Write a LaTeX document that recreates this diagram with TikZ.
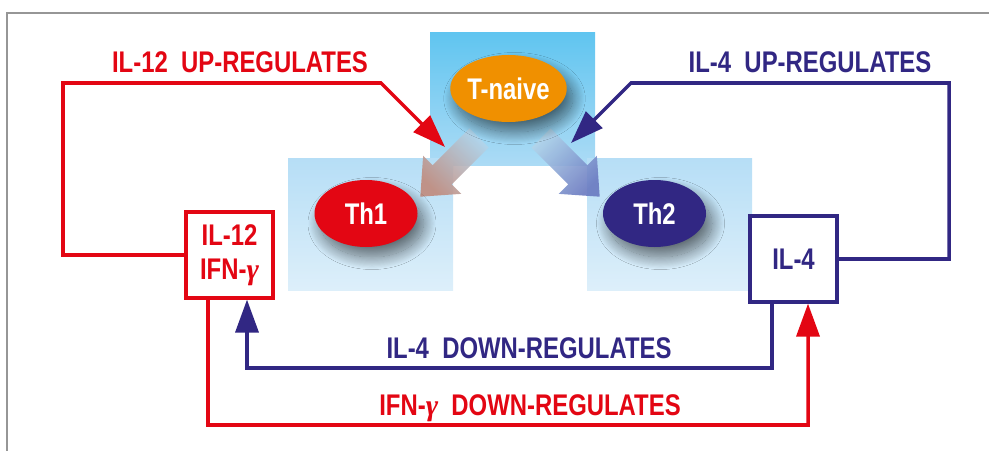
\documentclass[tikz,border=0pt]{standalone}
\usepackage{fontspec}
\setmainfont{Liberation Sans}[FakeStretch=0.8]
\newfontfamily\gammafont{Liberation Serif}
\usetikzlibrary{shapes.geometric, arrows.meta, shadows.blur}
\definecolor{ilred}{RGB}{227, 6, 19}
\definecolor{ilblue}{RGB}{49, 39, 131}
\definecolor{naive}{RGB}{240, 144, 0}
\definecolor{skydeep}{RGB}{96, 197, 240}
\definecolor{skymid}{RGB}{172, 219, 245}
\definecolor{skylight}{RGB}{182, 222, 246}
\definecolor{skypale}{RGB}{221, 239, 250}
\definecolor{framegray}{RGB}{150, 150, 150}
\definecolor{tailblue}{RGB}{178, 212, 234}
\definecolor{thonetip}{RGB}{192, 138, 124}
\definecolor{thtwotip}{RGB}{105, 121, 192}
\newcommand{\gam}{{\gammafont\bfseries\itshape γ}}
\tikzset{
    txt/.style={font=\fontsize{17}{19.5}\selectfont\bfseries},
    cell/.style={ellipse, txt, text=white, inner sep=0pt, minimum width=2.06cm, minimum height=1.34cm,
        blur shadow={shadow xshift=0.12cm, shadow yshift=-0.2cm, shadow blur radius=0.25cm,
            shadow blur steps=24, shadow opacity=55}},
    cytobox/.style={rectangle, txt, fill=white, line width=1.8pt, align=center, inner sep=0pt,
        minimum width=1.74cm, minimum height=1.72cm},
    loopline/.style={line width=2pt, -{Triangle[length=0.66cm, width=0.46cm]}},
    lbl/.style={txt, anchor=base, inner sep=0pt}
}
\begin{document}
\begin{tikzpicture}
    \useasboundingbox (0,0) rectangle (19.78,9);
    \draw[framegray, line width=1pt] (0.14,-1) -- (0.14,8.74) -- (21,8.74);

    % backgrounds of the three cells
    \shade[top color=skydeep, bottom color=skymid] (8.6,5.7) rectangle (11.9,8.34);
    \shade[top color=skylight, bottom color=skypale] (5.76,3.2) rectangle (9.06,5.84);
    \shade[top color=skylight, bottom color=skypale] (11.74,3.2) rectangle (15.04,5.84);

    % differentiation arrows
    \foreach \sx/\rot/\ang/\tipcol in {9.58/-135/-45/thonetip, 10.82/-45/45/thtwotip}
        \shade[top color=tailblue, bottom color=\tipcol, shading angle=\ang, opacity=0.9,
               shift={(\sx,6.24)}, rotate=\rot]
            (0,0.27) -- (1.04,0.27) -- (1.04,0.54) -- (1.66,0) -- (1.04,-0.54) -- (1.04,-0.27) -- (0,-0.27) -- cycle;

    \node[cell, fill=naive] (tnaive) at (10.17,7.23) {T-naive};
    \node[cell, fill=ilred] (thone) at (7.32,4.73) {Th1};
    \node[cell, fill=ilblue] (thtwo) at (13.09,4.73) {Th2};

    \node[cytobox, draw=ilred, text=ilred] (cytoone) at (4.59,3.9) {IL-12\\IFN-\gam};
    \node[cytobox, draw=ilblue, text=ilblue] (cytotwo) at (15.87,3.82) {IL-4};

    \coordinate (thonein) at (8.9,6.06);
    \coordinate (thtwoin) at (11.42,6.14);

    \draw[loopline, ilred] (cytoone.west) -| (1.26,7.34) -- (7.62,7.34) -- (thonein);
    \draw[loopline, ilblue] (cytotwo.east) -| (18.98,7.34) -- (12.62,7.34) -- (thtwoin);
    \draw[loopline, ilblue] ([xshift=-0.43cm]cytotwo.south) |- (4.94,1.64) -- ([xshift=0.35cm]cytoone.south);
    \draw[loopline, ilred] ([xshift=-0.43cm]cytoone.south) |- (16.16,0.5) -- ([xshift=0.29cm]cytotwo.south);

    \node[lbl, text=ilred] (uponelbl) at (4.8,7.54) {IL-12\ \ UP-REGULATES};
    \node[lbl, text=ilblue] (uptwolbl) at (16.2,7.54) {IL-4\ \ UP-REGULATES};
    \node[lbl, text=ilblue] (downtwolbl) at (10.58,1.84) {IL-4\ \ DOWN-REGULATES};
    \node[lbl, text=ilred] (downonelbl) at (10.6,0.7) {IFN-\gam\ \ DOWN-REGULATES};
\end{tikzpicture}
\end{document}
